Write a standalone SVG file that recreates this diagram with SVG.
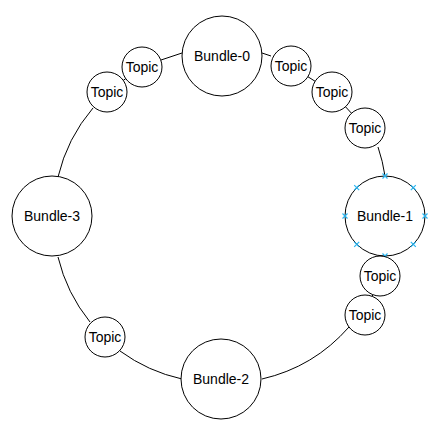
<svg xmlns="http://www.w3.org/2000/svg" width="445" height="437" viewBox="0 0 445 437">
<style>
.n{fill:#fff;stroke:#000;stroke-width:1}
.e{fill:none;stroke:#000;stroke-width:1}
text{font-family:"Liberation Sans",Arial,sans-serif;font-size:14px;fill:#000;text-anchor:middle;dominant-baseline:central}
.x{stroke:#29b6f2;stroke-width:1.2;fill:none}
</style>
<rect width="445" height="437" fill="#fff"/>
<g id="connectors">
<path class="e" d="M58,177 A165,165 0 0 1 93,108"/>
<line class="e" x1="107" y1="92" x2="142" y2="67"/>
<line class="e" x1="161" y1="60" x2="182" y2="53"/>
<line class="e" x1="262" y1="53" x2="271" y2="56"/>
<line class="e" x1="291" y1="66" x2="332" y2="92"/>
<line class="e" x1="332" y1="92" x2="365" y2="128"/>
<path class="e" d="M378,147 A165,165 0 0 1 385,176"/>
<line class="e" x1="380" y1="276" x2="365" y2="315"/>
<path class="e" d="M349,327 A165,165 0 0 1 262,379"/>
<path class="e" d="M182,379 A165,165 0 0 1 120,351"/>
<path class="e" d="M90,322 A165,165 0 0 1 58,257"/>
</g>
<g id="bundle-0"><circle class="n" cx="222" cy="56" r="40"/><text x="222" y="56">Bundle-0</text></g>
<g id="bundle-1"><circle class="n" cx="385" cy="216" r="40"/><text x="385" y="216">Bundle-1</text>
<g class="x">
<path d="M382.5,173.5l5,5m0,-5l-5,5"/>
<path d="M382.5,253.5l5,5m0,-5l-5,5"/>
<path d="M342.5,213.5l5,5m0,-5l-5,5"/>
<path d="M422.5,213.5l5,5m0,-5l-5,5"/>
<path d="M354.2,185.2l5,5m0,-5l-5,5"/>
<path d="M410.8,185.2l5,5m0,-5l-5,5"/>
<path d="M354.2,241.8l5,5m0,-5l-5,5"/>
<path d="M410.8,241.8l5,5m0,-5l-5,5"/>
</g></g>
<g id="bundle-2"><circle class="n" cx="221" cy="379" r="40"/><text x="221" y="379">Bundle-2</text></g>
<g id="bundle-3"><circle class="n" cx="52" cy="216" r="40"/><text x="52" y="216">Bundle-3</text></g>
<g id="topic-1"><circle class="n" cx="142" cy="67" r="20"/><text x="142" y="67">Topic</text></g>
<g id="topic-2"><circle class="n" cx="107" cy="92" r="20"/><text x="107" y="92">Topic</text></g>
<g id="topic-3"><circle class="n" cx="291" cy="66" r="20"/><text x="291" y="66">Topic</text></g>
<g id="topic-4"><circle class="n" cx="332" cy="92" r="20"/><text x="332" y="92">Topic</text></g>
<g id="topic-5"><circle class="n" cx="365" cy="128" r="20"/><text x="365" y="128">Topic</text></g>
<g id="topic-6"><circle class="n" cx="380" cy="276" r="20"/><text x="380" y="276">Topic</text></g>
<g id="topic-7"><circle class="n" cx="365" cy="315" r="20"/><text x="365" y="315">Topic</text></g>
<g id="topic-8"><circle class="n" cx="105" cy="337" r="20"/><text x="105" y="337">Topic</text></g>
</svg>
